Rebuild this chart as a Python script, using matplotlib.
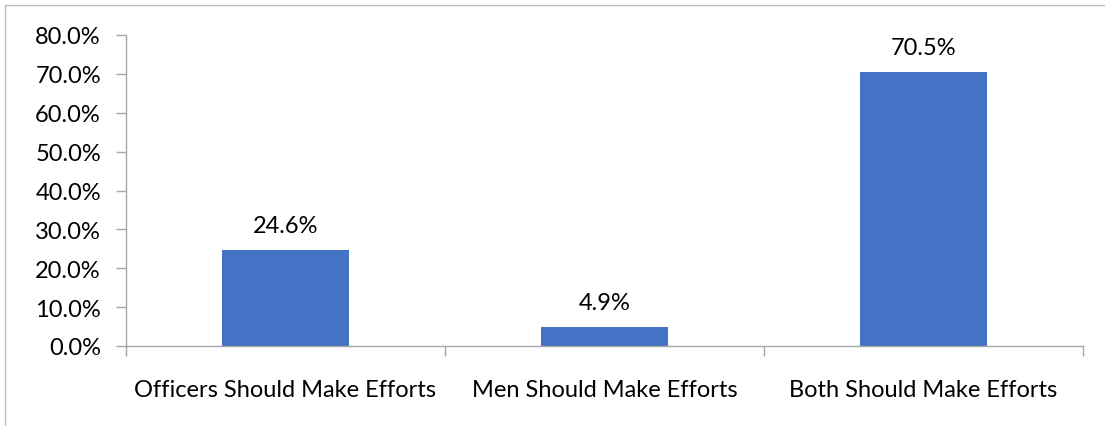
import matplotlib
matplotlib.use("Agg")
import matplotlib.pyplot as plt
from matplotlib.lines import Line2D

categories = ["Officers Should Make Efforts", "Men Should Make Efforts", "Both Should Make Efforts"]
values = [24.6, 4.9, 70.5]
y_ticks = [0, 10, 20, 30, 40, 50, 60, 70, 80]

plt.rcParams["font.family"] = ["Lato", "DejaVu Sans"]

W, H = 1105, 427
fig = plt.figure(figsize=(W / 100, H / 100), dpi=100)
ax = fig.add_axes([126 / W, (H - 347) / H, (1083 - 126) / W, (347 - 36) / H])

grey = "#A6A6A6"
bar_color = "#4472C4"
fs = 17

x = list(range(len(categories)))
bars = ax.bar(x, values, width=0.4, color=bar_color, zorder=2)
for xi, v in zip(x, values):
    ax.annotate(f"{v:.1f}%", (xi, v), xytext=(0, 10), textcoords="offset points",
                ha="center", va="bottom", fontsize=fs, color="#000000")

ax.set_xlim(-0.5, len(categories) - 0.5)
ax.set_ylim(0, 80)
ax.set_yticks(y_ticks)
ax.set_yticklabels([f"{t:.1f}%" for t in y_ticks])

# category labels centred, tick marks at category boundaries
ax.set_xticks(x)
ax.set_xticklabels(categories)
ax.tick_params(axis="x", which="major", length=0, pad=24, labelsize=fs)
ax.set_xticks([i - 0.5 for i in range(len(categories) + 1)], minor=True)
ax.tick_params(axis="x", which="minor", length=7, width=1, color=grey, direction="out")
ax.tick_params(axis="y", length=7, width=1, color=grey, direction="out", pad=11, labelsize=fs)

for s in ("top", "right"):
    ax.spines[s].set_visible(False)
for s in ("left", "bottom"):
    ax.spines[s].set_color(grey)
    ax.spines[s].set_linewidth(1)

# outer frame
fig.add_artist(Line2D([5 / W, 5 / W], [0, 1 - 6 / H], transform=fig.transFigure, color="#BFBFBF", lw=1))
fig.add_artist(Line2D([5 / W, 1], [1 - 6 / H, 1 - 6 / H], transform=fig.transFigure, color="#BFBFBF", lw=1))

fig.savefig("out.png", dpi=100)
